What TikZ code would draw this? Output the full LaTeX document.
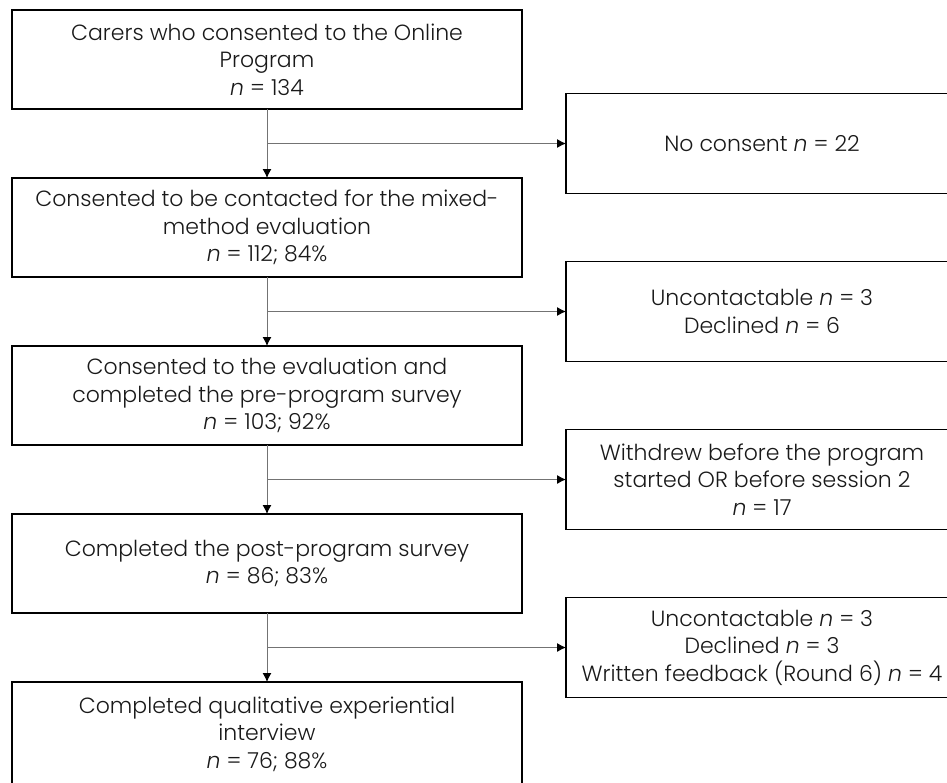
\documentclass[tikz,border=0pt]{standalone}
\usepackage{fontspec}
\setmainfont{Poppins}[UprightFont=* Light, ItalicFont=* Light Italic]
\usepackage{tikz}
\usetikzlibrary{arrows.meta, calc, positioning}
\usepackage{xcolor}
\tikzstyle{lbox} = [%
  rectangle,
  draw=black,
  line width=0.7pt,
  minimum width=255pt,
  minimum height=49.5pt,
  align=center,
  text centered,
  inner sep=2pt,
  outer sep=0pt
]
\tikzstyle{rbox} = [%
  lbox,
  minimum width=196pt,
  minimum height=50pt,
  anchor=west
]

\begin{document}
\begin{tikzpicture}[%
  >={Latex[length=4.5pt,width=4.5pt,color=black]},
  every node/.style={%
    font=\fontsize{11}{13.75}\selectfont,
    text=black!90
  },
  link/.style={draw=black!55,line width=0.5pt}
]
  \clip (0,0) rectangle (473.5pt,-391pt);

  % Main column
  \node[lbox,anchor=north west] (B1) at (6pt,-5pt)
    {Carers who consented to the Online\\Program\\\textit{n} = 134};
  \node[lbox,below=34.5pt of B1] (B2)
    {Consented to be contacted for the mixed-\\method evaluation\\\textit{n} = 112; 84\%};
  \node[lbox,below=34.5pt of B2] (B3)
    {Consented to the evaluation and\\completed the pre-program survey\\\textit{n} = 103; 92\%};
  \node[lbox,below=34.5pt of B3] (B4)
    {Completed the post-program survey\\\textit{n} = 86; 83\%};
  \node[lbox,below=34.5pt of B4,minimum height=52pt] (B5)
    {Completed qualitative experiential\\interview\\\textit{n} = 76; 88\%};

  % Branch points
  \foreach \a/\b in {1/2,2/3,3/4,4/5}{
    \coordinate (G\a) at ($(B\a.south)!0.5!(B\b.north)$);
    \coordinate (E\a) at ($(B\a.south east)!0.5!(B\b.north east)$);
  }

  % Exclusions
  \node[rbox,right=22pt of E1] (R1) {No consent \textit{n} = 22};
  \node[rbox,right=22pt of E2] (R2)
    {Uncontactable \textit{n} = 3\\Declined \textit{n} = 6};
  \node[rbox,right=22pt of E3] (R3)
    {Withdrew before the program\\started OR before session 2\\\textit{n} = 17};
  \node[rbox,right=22pt of E4] (R4)
    {Uncontactable \textit{n} = 3\\Declined \textit{n} = 3\\Written feedback (Round 6) \textit{n} = 4};

  % Edges
  \foreach \a/\b in {1/2,2/3,3/4,4/5}{
    \draw[link,->] (B\a.south) -- (B\b.north);
    \draw[link,->] (G\a) -- (R\a.west);
  }

\end{tikzpicture}
\end{document}
